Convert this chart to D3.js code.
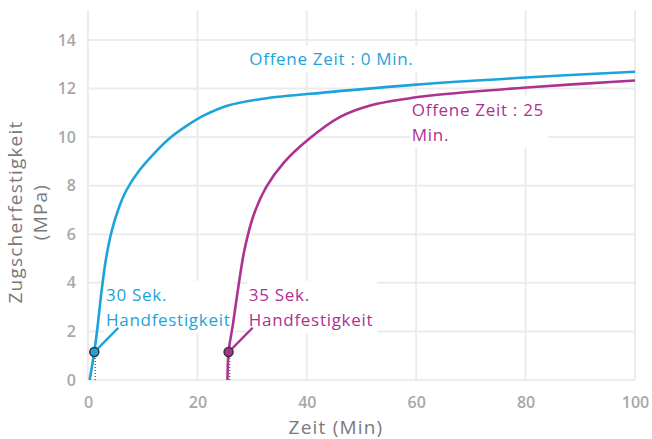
<meta charset="utf-8">
<body style="margin:0;background:#fff">
<div id="chart"></div>
</body>
<script src="https://d3js.org/d3.v7.min.js"></script>
<script>
// values
var xTicks = [0, 20, 40, 60, 80, 100];
var yTicks = [0, 2, 4, 6, 8, 10, 12, 14];

var blueX = [0.3, 1.15, 1.8, 2.5, 3.3, 4.3, 5.5, 7.0, 9.3, 12.2, 15.2, 18.3, 21.3, 25.6, 32, 44, 60, 80, 100];
var blueY = [0, 1.15, 2.3, 3.7, 5.0, 6.1, 7.0, 7.8, 8.6, 9.35, 10.0, 10.5, 10.9, 11.3, 11.58, 11.85, 12.16, 12.45, 12.69];

var pinkX = [25.5, 25.7, 26.5, 27.4, 28.6, 30.3, 32.6, 35.8, 40.0, 46.1, 51.6, 58.3, 64.4, 80.2, 100];
var pinkY = [0, 1.15, 2.3, 3.7, 5.35, 6.8, 7.95, 8.95, 9.85, 10.83, 11.3, 11.58, 11.75, 12.04, 12.33];

var blue = "#1ba3dc", pink = "#ad3190";
var markers = [{x: 1.15, y: 1.15, c: blue}, {x: 25.7, y: 1.15, c: pink}];

var W = 652, H = 439;
var svg = d3.select("#chart").append("svg").attr("width", W).attr("height", H)
  .style("font-family", "'Open Sans', sans-serif");

var x = d3.scaleLinear().domain([0, 100]).range([88, 635]);
var y = d3.scaleLinear().domain([0, 15.23]).range([380, 10]);

// grid
svg.selectAll(".vg").data(xTicks).enter().append("line")
  .attr("x1", d => x(d)).attr("x2", d => x(d))
  .attr("y1", y.range()[1]).attr("y2", y(0))
  .attr("stroke", "#ececec").attr("stroke-width", 2);
svg.selectAll(".hg").data(yTicks).enter().append("line")
  .attr("x1", x(0)).attr("x2", x(100))
  .attr("y1", d => y(d)).attr("y2", d => y(d))
  .attr("stroke", "#ececec").attr("stroke-width", 2);

// axes labels
var xAxis = svg.append("g").attr("transform", "translate(0," + y(0) + ")")
  .call(d3.axisBottom(x).tickValues(xTicks).tickSize(0).tickPadding(17));
var yAxis = svg.append("g").attr("transform", "translate(" + x(0) + ",0)")
  .call(d3.axisLeft(y).tickValues(yTicks).tickSize(0).tickPadding(12));
[xAxis, yAxis].forEach(function(a) {
  a.select(".domain").remove();
  a.selectAll("text").attr("fill", "#a8a8a8").style("font-size", "16px")
    .style("font-weight", "600").style("font-family", "'Open Sans', sans-serif");
});

svg.append("text").attr("x", 336).attr("y", 434).attr("text-anchor", "middle")
  .attr("fill", "#7a7a7a").style("font-size", "19px").style("letter-spacing", "1.2px")
  .text("Zeit (Min)");
var yt = svg.append("text").attr("transform", "translate(22,212) rotate(-90)")
  .attr("text-anchor", "middle").attr("fill", "#7a7a7a")
  .style("font-size", "19px").style("letter-spacing", "1.2px");
yt.append("tspan").attr("x", 0).attr("dy", 0).text("Zugscherfestigkeit");
yt.append("tspan").attr("x", 0).attr("dy", 25).text("(MPa)");

// annotation labels (with white backgrounds)
var labels = [
  {x: 29.5, y: 12.95, c: blue, lines: ["Offene Zeit : 0 Min."]},
  {x: 59.2, y: 10.88, c: pink, lines: ["Offene Zeit : 25", "Min."]},
  {x: 3.3, y: 3.25, c: blue, lines: ["30 Sek.", "Handfestigkeit"]},
  {x: 29.4, y: 3.25, c: pink, lines: ["35 Sek.", "Handfestigkeit"]}
];
var bgLayer = svg.append("g");
var lineLayer = svg.append("g");
var txtLayer = svg.append("g");

labels.forEach(function(l) {
  var t = txtLayer.append("text").attr("fill", l.c)
    .style("font-size", "17px").style("letter-spacing", "0.7px");
  l.lines.forEach(function(s, i) {
    t.append("tspan").attr("x", x(l.x)).attr("y", y(l.y) + i * 25).text(s);
  });
  var b = t.node().getBBox();
  bgLayer.append("rect").attr("x", b.x - 2).attr("y", b.y - 2)
    .attr("width", b.width + 6).attr("height", b.height + 4).attr("fill", "#fff");
});

// curves
var line = d3.line().x(d => x(d[0])).y(d => y(d[1])).curve(d3.curveCatmullRom.alpha(0.5));
[[blueX, blueY, blue], [pinkX, pinkY, pink]].forEach(function(s) {
  lineLayer.append("path").datum(d3.zip(s[0], s[1]))
    .attr("d", line).attr("fill", "none").attr("stroke", s[2]).attr("stroke-width", 2.6);
});

// markers with leaders and dotted drop lines
markers.forEach(function(m) {
  lineLayer.append("line").attr("x1", x(m.x) + 1).attr("x2", x(m.x) + 1)
    .attr("y1", y(m.y)).attr("y2", y(0)).attr("stroke", "#666")
    .attr("stroke-width", 1.5).attr("stroke-dasharray", "1,2");
  lineLayer.append("line").attr("x1", x(m.x)).attr("y1", y(m.y))
    .attr("x2", x(m.x + 4.4)).attr("y2", y(m.y + 1.0))
    .attr("stroke", m.c).attr("stroke-width", 2.4);
  lineLayer.append("circle").attr("cx", x(m.x)).attr("cy", y(m.y)).attr("r", 4.5)
    .attr("fill", m.c).attr("stroke", "#333").attr("stroke-width", 1.5);
});
</script>
